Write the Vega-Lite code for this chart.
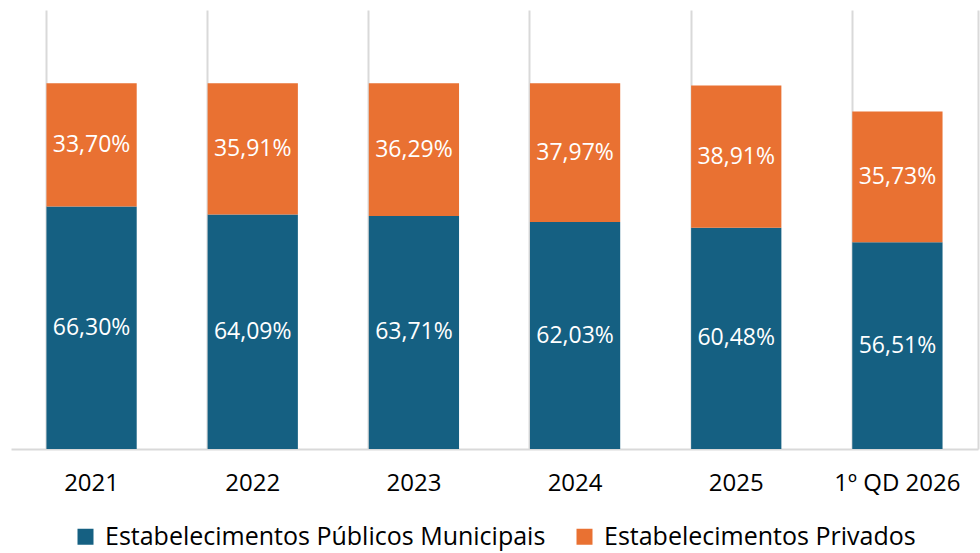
{
  "$schema": "https://vega.github.io/schema/vega-lite/v6.json",
  "autosize": {"type": "none"},
  "width": 967,
  "height": 439,
  "padding": {"left": 11, "top": 10, "right": 2, "bottom": 104},
  "background": "#ffffff",
  "config": {
    "view": {"stroke": null},
    "locale": {"number": {"decimal": ",", "thousands": ".", "grouping": [3], "currency": ["", " €"]}},
    "legend": {"layout": {"bottom": {"anchor": "middle"}}}
  },
  "data": {"values": [
    {"ano": "2021", "serie": "Estabelecimentos Públicos Municipais", "ordem": 1, "valor": 0.6630},
    {"ano": "2021", "serie": "Estabelecimentos Privados", "ordem": 2, "valor": 0.3370},
    {"ano": "2022", "serie": "Estabelecimentos Públicos Municipais", "ordem": 1, "valor": 0.6409},
    {"ano": "2022", "serie": "Estabelecimentos Privados", "ordem": 2, "valor": 0.3591},
    {"ano": "2023", "serie": "Estabelecimentos Públicos Municipais", "ordem": 1, "valor": 0.6371},
    {"ano": "2023", "serie": "Estabelecimentos Privados", "ordem": 2, "valor": 0.3629},
    {"ano": "2024", "serie": "Estabelecimentos Públicos Municipais", "ordem": 1, "valor": 0.6203},
    {"ano": "2024", "serie": "Estabelecimentos Privados", "ordem": 2, "valor": 0.3797},
    {"ano": "2025", "serie": "Estabelecimentos Públicos Municipais", "ordem": 1, "valor": 0.6048},
    {"ano": "2025", "serie": "Estabelecimentos Privados", "ordem": 2, "valor": 0.3891},
    {"ano": "1º QD 2026", "serie": "Estabelecimentos Públicos Municipais", "ordem": 1, "valor": 0.5651},
    {"ano": "1º QD 2026", "serie": "Estabelecimentos Privados", "ordem": 2, "valor": 0.3573}
  ]},
  "transform": [
    {"stack": "valor", "groupby": ["ano"], "sort": [{"field": "ordem", "order": "ascending"}], "as": ["v0", "v1"]},
    {"calculate": "(datum.v0 + datum.v1) / 2", "as": "vmid"}
  ],
  "encoding": {
    "x": {
      "field": "ano", "type": "nominal", "sort": null,
      "scale": {"paddingInner": 0.44, "paddingOuter": 0.22},
      "axis": {
        "title": null, "labelAngle": 0, "labelFontSize": 24, "labelFont": "Open Sans",
        "labelColor": "#000000", "labelPadding": 22, "ticks": false,
        "domainColor": "#d9d9d9", "domainWidth": 2,
        "grid": true, "gridColor": "#d9d9d9", "gridWidth": 2, "bandPosition": 0
      }
    }
  },
  "layer": [
    {
      "mark": {"type": "bar"},
      "encoding": {
        "y": {"field": "v0", "type": "quantitative", "scale": {"domain": [0, 1.2], "nice": false},
          "axis": {"orient": "right", "title": null, "labels": false, "ticks": false, "grid": false,
            "domainColor": "#d9d9d9", "domainWidth": 2}},
        "y2": {"field": "v1"},
        "color": {
          "field": "serie", "type": "nominal",
          "scale": {"domain": ["Estabelecimentos Públicos Municipais", "Estabelecimentos Privados"], "range": ["#156082", "#E97132"]},
          "legend": {"title": null, "orient": "bottom", "direction": "horizontal", "symbolType": "square",
            "symbolSize": 256, "symbolStrokeWidth": 0, "labelFontSize": 25, "labelFont": "Open Sans", "labelColor": "#000000",
            "columnPadding": 26, "labelOffset": 7, "offset": 29, "labelLimit": 700}
        }
      }
    },
    {
      "mark": {"type": "text", "color": "#ffffff", "fontSize": 23, "font": "Open Sans", "baseline": "middle"},
      "encoding": {
        "y": {"field": "vmid", "type": "quantitative"},
        "text": {"field": "valor", "type": "quantitative", "format": ".2%"}
      }
    }
  ]
}
